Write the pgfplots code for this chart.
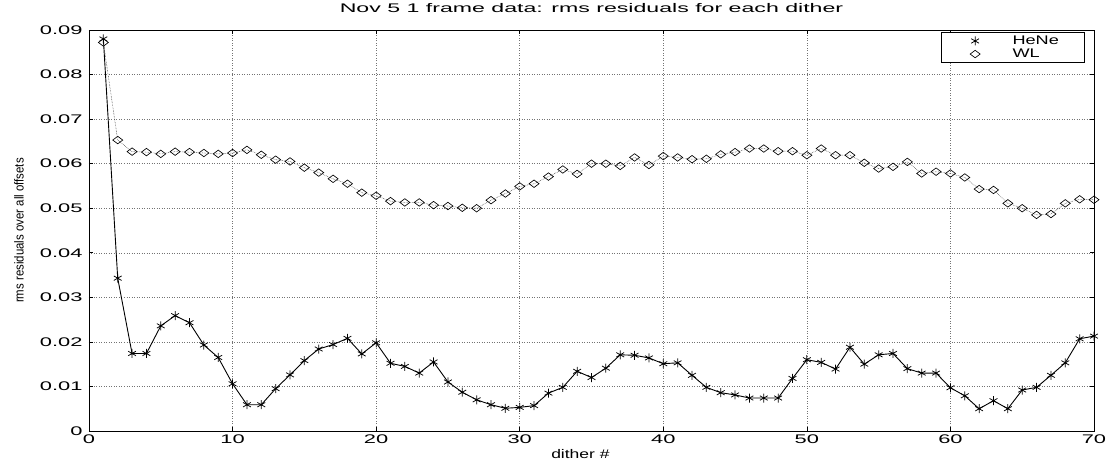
\documentclass[border=0pt]{standalone}
\usepackage{fontspec}
\usepackage{pgfplots}
\pgfplotsset{compat=1.18}
\setmainfont{Liberation Sans}
\newfontfamily\titlefont[FakeStretch=1.85]{Liberation Sans}
\newfontfamily\tickfont[FakeStretch=1.75]{Liberation Sans}
\newfontfamily\legfont[FakeStretch=1.45]{Liberation Sans}
\newfontfamily\xlabfont[FakeStretch=1.4]{Liberation Sans}
\newfontfamily\ylabfont[FakeStretch=0.88]{Liberation Sans}

\pgfplotstableread{
x y
1 0.0880
2 0.0343
3 0.0174
4 0.0174
5 0.0236
6 0.0259
7 0.0243
8 0.0193
9 0.0165
10 0.0106
11 0.0059
12 0.0059
13 0.0095
14 0.0126
15 0.0158
16 0.0184
17 0.0194
18 0.0208
19 0.0173
20 0.0198
21 0.0152
22 0.0145
23 0.0130
24 0.0155
25 0.0110
26 0.0087
27 0.0070
28 0.0059
29 0.0051
30 0.0053
31 0.0057
32 0.0085
33 0.0098
34 0.0134
35 0.0120
36 0.0141
37 0.0171
38 0.0170
39 0.0164
40 0.0151
41 0.0153
42 0.0125
43 0.0098
44 0.0086
45 0.0081
46 0.0074
47 0.0074
48 0.0074
49 0.0118
50 0.0160
51 0.0154
52 0.0139
53 0.0188
54 0.0150
55 0.0171
56 0.0174
57 0.0140
58 0.0130
59 0.0130
60 0.0097
61 0.0079
62 0.0050
63 0.0068
64 0.0050
65 0.0092
66 0.0098
67 0.0125
68 0.0153
69 0.0207
70 0.0213
}\hene

\pgfplotstableread{
x y
1 0.0872
2 0.0653
3 0.0627
4 0.0626
5 0.0622
6 0.0627
7 0.0626
8 0.0624
9 0.0622
10 0.0624
11 0.0631
12 0.0620
13 0.0609
14 0.0605
15 0.0591
16 0.0580
17 0.0566
18 0.0555
19 0.0535
20 0.0528
21 0.0516
22 0.0513
23 0.0513
24 0.0507
25 0.0505
26 0.0501
27 0.0500
28 0.0518
29 0.0533
30 0.0549
31 0.0555
32 0.0571
33 0.0587
34 0.0577
35 0.0600
36 0.0600
37 0.0595
38 0.0614
39 0.0597
40 0.0617
41 0.0614
42 0.0610
43 0.0611
44 0.0621
45 0.0626
46 0.0634
47 0.0634
48 0.0628
49 0.0628
50 0.0619
51 0.0634
52 0.0619
53 0.0619
54 0.0602
55 0.0589
56 0.0593
57 0.0604
58 0.0578
59 0.0582
60 0.0578
61 0.0569
62 0.0543
63 0.0541
64 0.0511
65 0.0500
66 0.0485
67 0.0487
68 0.0511
69 0.0520
70 0.0519
}\wl

\begin{document}
\begin{tikzpicture}
\useasboundingbox (-89pt,-33pt) rectangle (1019pt,431pt);
\begin{axis}[
  at={(0pt,0pt)}, anchor=south west,
  scale only axis, width=1005pt, height=401pt,
  xmin=0, xmax=70, ymin=0, ymax=0.09,
  scaled y ticks=false,
  xtick={0,10,20,30,40,50,60,70},
  xticklabels={0,10,20,30,40,50,60,70},
  ytick={0,0.01,0.02,0.03,0.04,0.05,0.06,0.07,0.08,0.09},
  yticklabels={0,0.01,0.02,0.03,0.04,0.05,0.06,0.07,0.08,0.09},
  tick align=inside,
  major tick length=4pt,
  tick style={black, line width=0.6pt},
  ticklabel style={font=\tickfont\fontsize{12.5}{14}\selectfont},
  yticklabel style={xshift=-3pt},
  axis line style={black, line width=0.9pt},
  grid=major,
  major grid style={black!55, line width=0.5pt, dotted},
  title={\titlefont\fontsize{12.5}{14}\selectfont Nov 5 1 frame data: rms residuals for each dither},
  title style={at={(axis description cs:0.5,1.039)}, anchor=center},
  xlabel={\xlabfont\fontsize{12.5}{14}\selectfont dither \#},
  xlabel style={at={(axis description cs:0.489,-0.057)}, anchor=center},
  ylabel={\ylabfont\fontsize{13}{15}\selectfont rms residuals over all offsets},
  ylabel style={at={(axis description cs:-0.0697,0.5)}, anchor=center},
  legend style={at={(axis description cs:0.991,0.995)}, anchor=north east,
    draw=black, line width=0.8pt, fill=white,
    font=\legfont\fontsize{12.5}{14}\selectfont,
    inner xsep=4pt, inner ysep=1.5pt, row sep=-1pt},
  legend cell align=left,
  legend image code/.code={\path (0pt,0pt) (64pt,0pt); \draw[#1] plot coordinates {(29pt,0pt)};},
]
\addplot[black, line width=0.9pt, mark=asterisk, mark size=4.5pt,
  mark options={line width=0.75pt}, forget plot] table[x=x,y=y]{\hene};
\addplot[black!75, line width=0.55pt, densely dotted, mark=diamond, mark size=5pt,
  mark options={black, solid, line width=0.65pt, rotate=90, fill=white}, forget plot] table[x=x,y=y]{\wl};
\addlegendimage{black, mark=asterisk, mark size=4.5pt, mark options={line width=0.75pt}}
\addlegendentry{\makebox[66pt][l]{HeNe}}
\addlegendimage{black, mark=diamond, mark size=5pt, mark options={line width=0.65pt, rotate=90}}
\addlegendentry{\makebox[66pt][l]{WL}}
\end{axis}
\end{tikzpicture}
\end{document}
